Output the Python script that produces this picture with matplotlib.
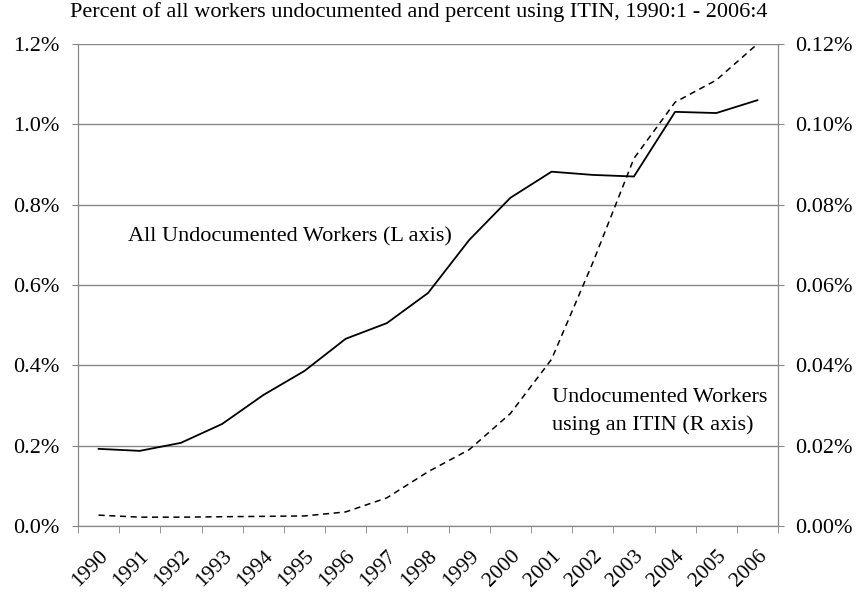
import matplotlib.pyplot as plt
from matplotlib.ticker import FuncFormatter
import numpy as np

years = ["1990", "1991", "1992", "1993", "1994", "1995", "1996", "1997", "1998",
         "1999", "2000", "2001", "2002", "2003", "2004", "2005", "2006"]
all_undoc = [0.192, 0.187, 0.207, 0.254, 0.326, 0.386, 0.466, 0.505, 0.580,
             0.712, 0.817, 0.882, 0.874, 0.870, 1.031, 1.028, 1.060]
itin = [0.0027, 0.0022, 0.0022, 0.0023, 0.0024, 0.0025, 0.0035, 0.0070, 0.0135,
        0.0190, 0.0280, 0.0415, 0.0655, 0.0915, 0.1055, 0.1110, 0.1200]

plt.rcParams['font.family'] = ['Liberation Serif', 'DejaVu Serif']
plt.rcParams['font.size'] = 16

fig = plt.figure(figsize=(8.6, 5.94), dpi=100)
ax = fig.add_axes([0.0907, 0.1145, 0.814, 0.8115])
ax2 = ax.twinx()

x = np.arange(len(years))
ax.plot(x, all_undoc, color='black', lw=1.3, zorder=3)
ax2.plot(x, itin, color='black', lw=1.1, ls=(0, (4, 3)), zorder=3)

grid = '#888888'
ax.set_xlim(-0.5, len(years) - 0.5)
ax.set_ylim(0, 1.2)
ax2.set_ylim(0, 0.12)
ax.set_yticks(np.arange(0, 1.21, 0.2))
ax2.set_yticks(np.arange(0, 0.121, 0.02))
ax.yaxis.set_major_formatter(FuncFormatter(lambda v, p: f"{v:.1f}%"))
ax2.yaxis.set_major_formatter(FuncFormatter(lambda v, p: f"{v:.2f}%"))
ax.grid(axis='y', color=grid, lw=1)
ax.set_axisbelow(True)

ax.set_xticks(x)
ax.set_xticklabels(years, rotation=45, ha='right', va='top', rotation_mode='anchor',
                   fontsize=15.5)
ax.set_xticks(np.arange(-0.5, len(years)), minor=True)
ax.tick_params(axis='x', which='major', length=0, pad=15)
ax.tick_params(axis='x', which='minor', length=5, color=grid)
ax.tick_params(axis='y', length=4.5, color=grid, pad=9)
ax2.tick_params(axis='y', length=4.5, color=grid, pad=8)

for a in (ax, ax2):
    a.spines['top'].set_visible(False)
    for s in ('left', 'right', 'bottom'):
        a.spines[s].set_color(grid)

fig.text(0.487, 0.98, "Percent of all workers undocumented and percent using ITIN, 1990:1 - 2006:4",
         ha='center', va='center', fontsize=16)
ax.text(0.71, 0.72, "All Undocumented Workers (L axis)", ha='left', va='center', fontsize=16)
ax.text(11.0, 0.286, "Undocumented Workers\nusing an ITIN (R axis)", ha='left', va='center',
        fontsize=16, linespacing=1.55)

plt.savefig("out.png", dpi=100)
